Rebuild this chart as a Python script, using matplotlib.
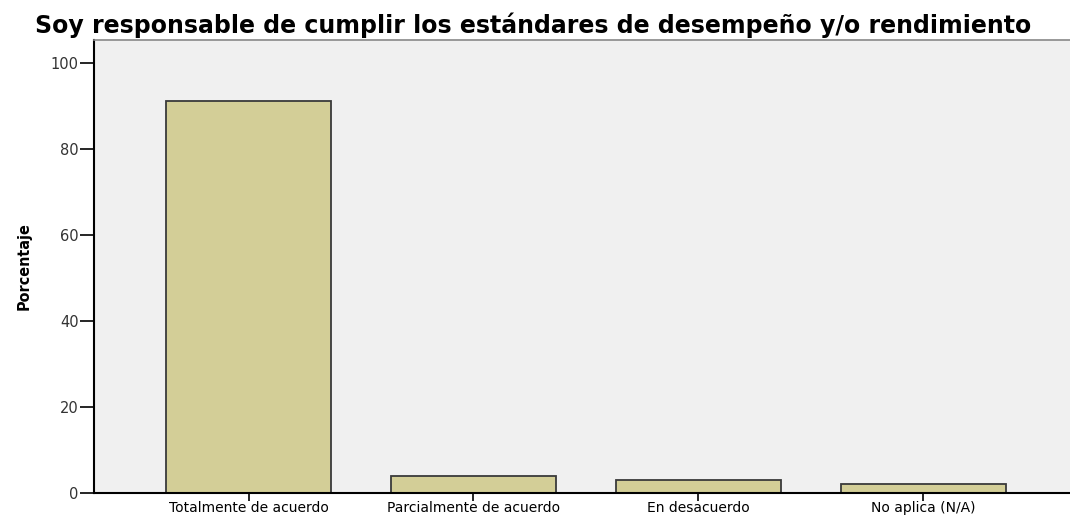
import matplotlib
matplotlib.use('Agg')
import matplotlib.pyplot as plt

plt.rcParams['font.family'] = ['DejaVu Sans']

categorias = ['Totalmente de acuerdo', 'Parcialmente de acuerdo', 'En desacuerdo', 'No aplica (N/A)']
porcentajes = [91.1, 4.0, 3.0, 2.0]
yticks = [0, 20, 40, 60, 80, 100]

W, H = 1070, 516
fig = plt.figure(figsize=(W / 100, H / 100), dpi=100)
ax = fig.add_axes([94 / W, 1 - 493 / H, 1 - 94 / W + 0.01, (493 - 40) / H])
ax.set_facecolor('#F0F0F0')

x = list(range(len(categorias)))
ax.bar(x, porcentajes, width=0.735, color='#D3CE97', edgecolor='#3a3a3a', linewidth=1.3)

ax.set_xlim(-0.687, 3.70)
ax.set_ylim(0, 105.3)
ax.set_xticks(x)
ax.set_xticklabels(categorias, fontsize=10)
ax.set_yticks(yticks)
ax.set_yticklabels([str(v) for v in yticks], fontsize=10.5, color='#333333')
ax.tick_params(axis='y', length=10, width=1.2, pad=1)
ax.tick_params(axis='x', length=6, width=1.2, pad=0)

for s in ['left', 'bottom']:
    ax.spines[s].set_linewidth(1.5)
    ax.spines[s].set_color('black')
ax.spines['top'].set_color('#888888')
ax.spines['top'].set_linewidth(1.2)
ax.spines['right'].set_visible(False)

ax.set_ylabel('Porcentaje', fontsize=11.5, fontweight='bold', fontstretch='condensed')
ax.yaxis.set_label_coords(-62 / (W - 94), 0.5)
fig.text(533 / W, 1 - 25 / H, 'Soy responsable de cumplir los estándares de desempeño y/o rendimiento',
         ha='center', va='center', fontsize=17, fontweight='bold')

plt.savefig('out.png', dpi=100)
